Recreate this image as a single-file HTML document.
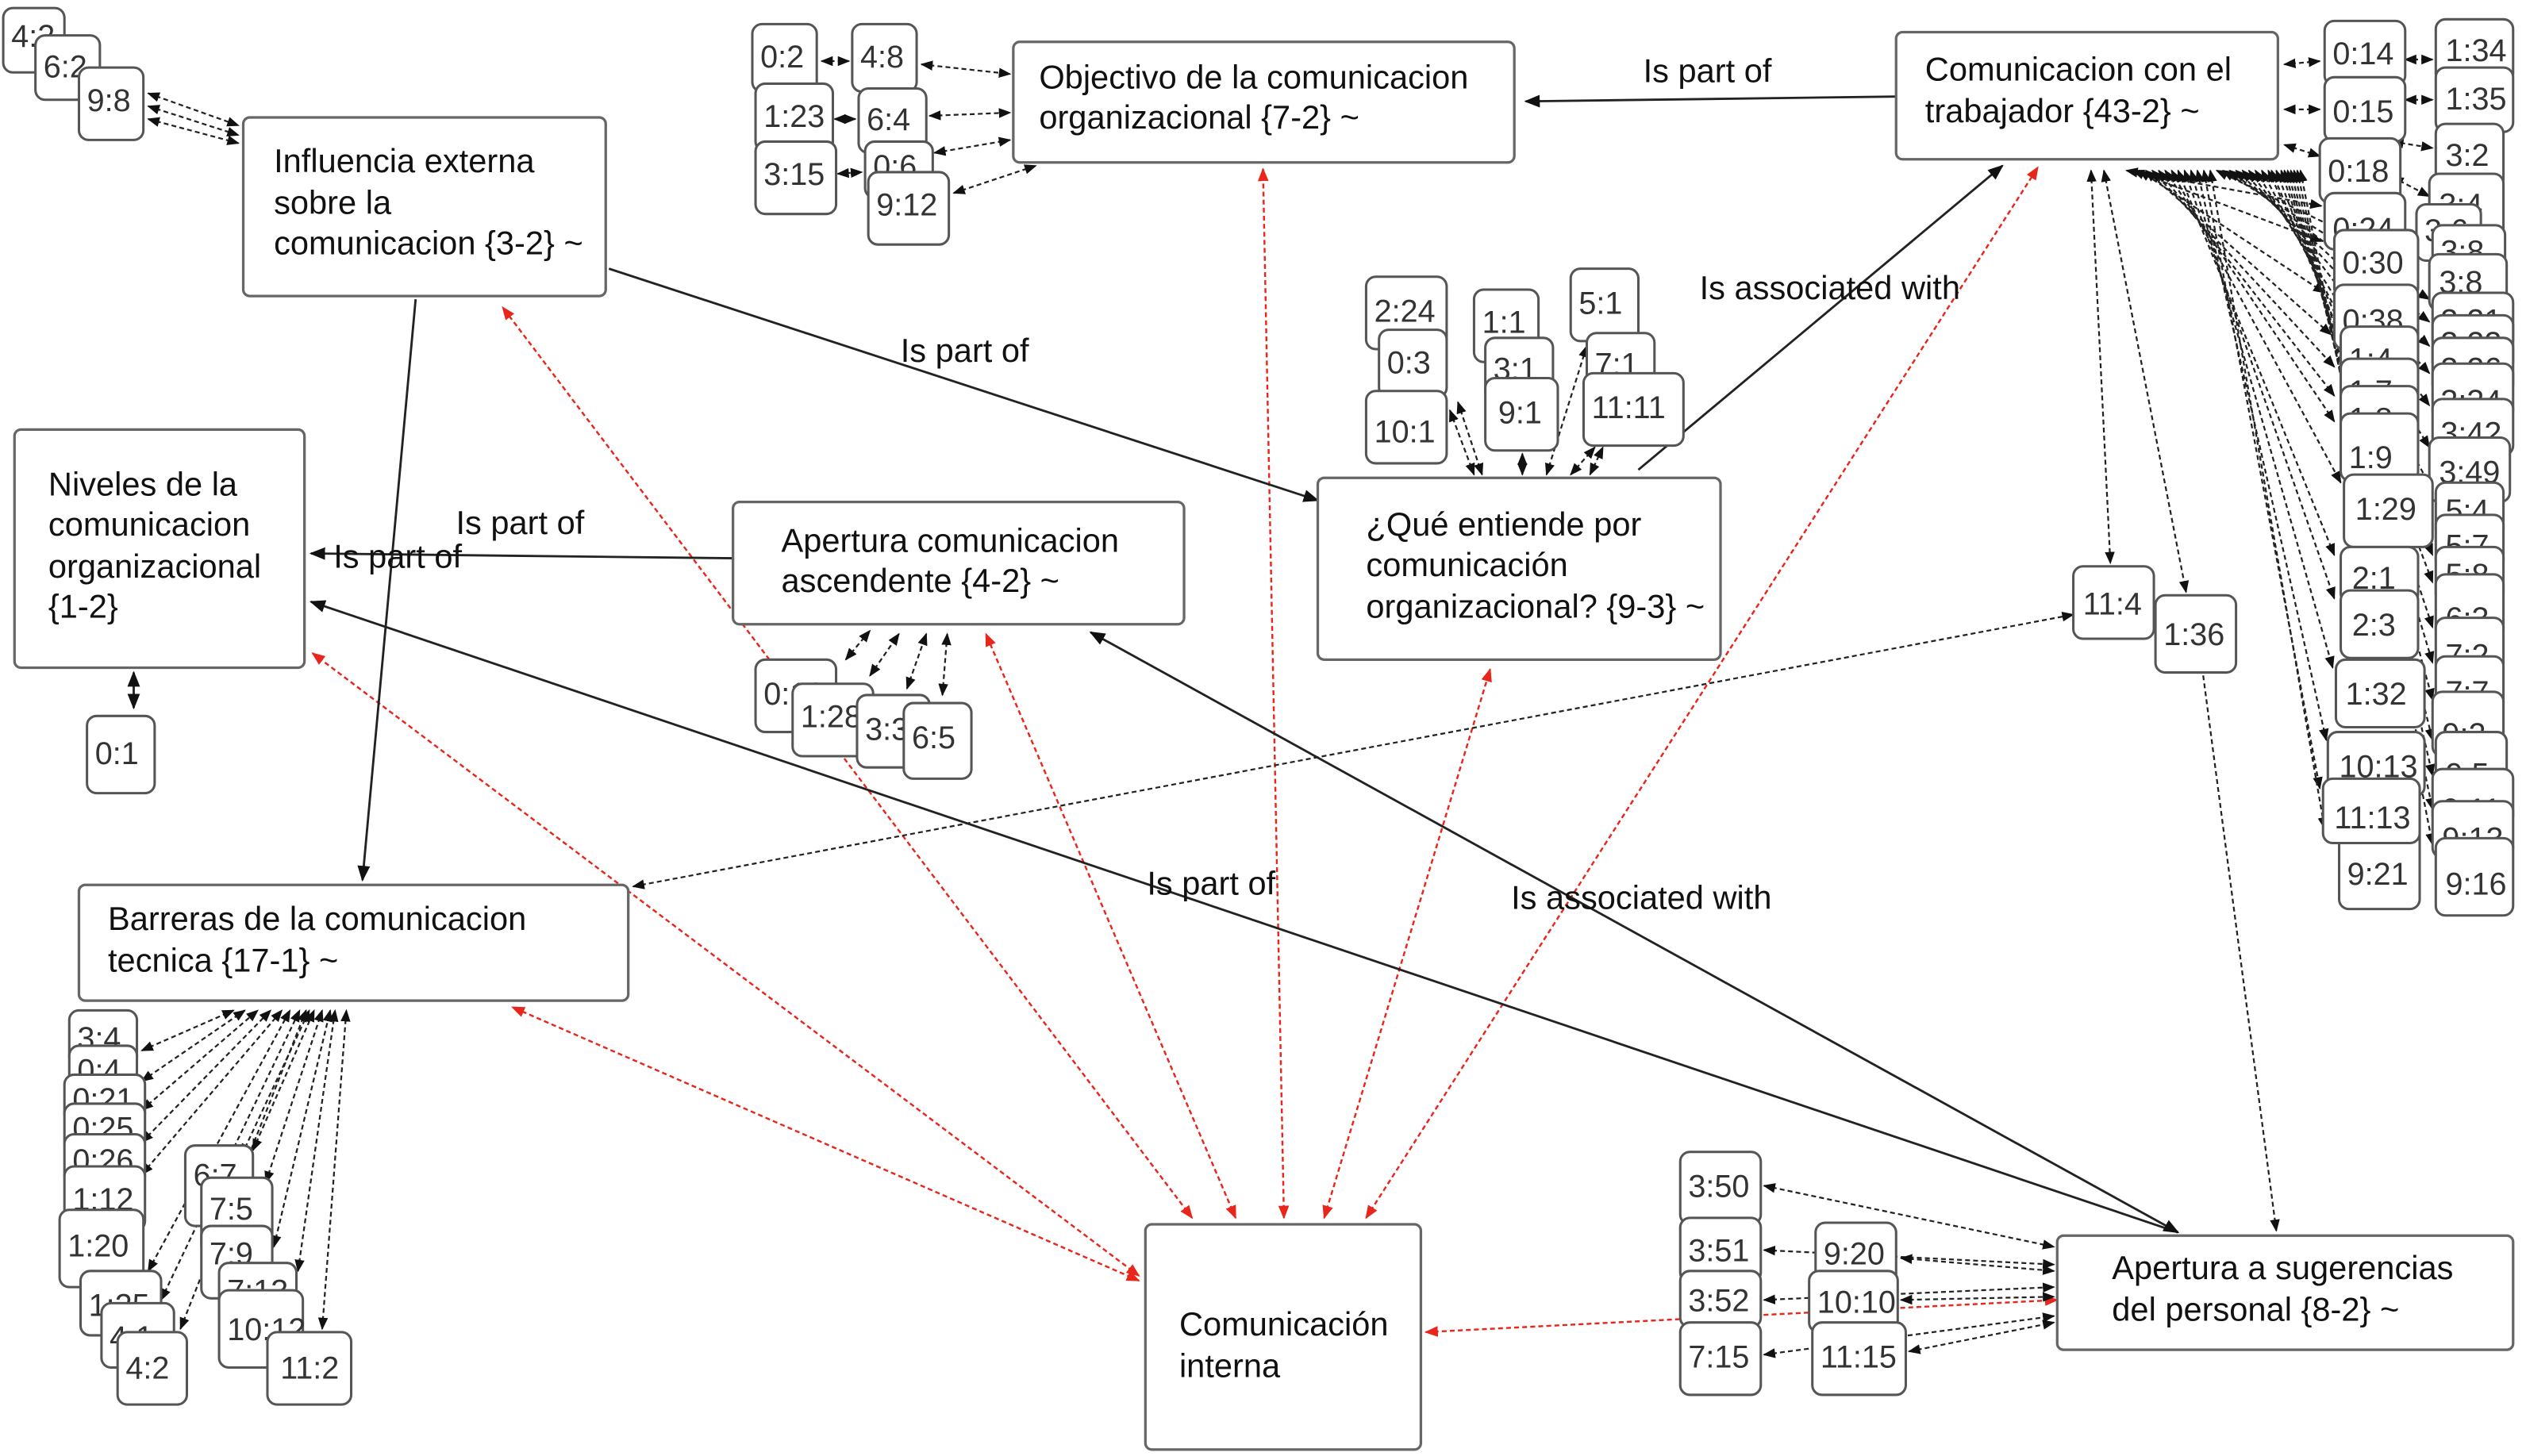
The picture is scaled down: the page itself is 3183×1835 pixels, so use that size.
<!DOCTYPE html>
<html><head><meta charset="utf-8"><style>
html,body{margin:0;padding:0;background:#fff;}
svg{display:block;}
.m{font-family:"Liberation Sans",sans-serif;font-size:20.5px;fill:#111;}
.c{font-family:"Liberation Sans",sans-serif;font-size:19.5px;fill:#333;}
.lb{font-family:"Liberation Sans",sans-serif;font-size:20.5px;fill:#111;}
.b{fill:#fff;stroke:#666;stroke-width:1.6;}
.k{fill:#fff;stroke:#555;stroke-width:1.5;}
.s{stroke:#222;stroke-width:1.4;fill:none;}
.d{stroke:#222;stroke-width:1.1;fill:none;stroke-dasharray:3 2;}
.r{stroke:#e8261c;stroke-width:1.2;fill:none;stroke-dasharray:3 2;}
</style></head><body>
<svg width="3183" height="1835" viewBox="0 0 1568 905" preserveAspectRatio="none" xmlns="http://www.w3.org/2000/svg">
<defs>
<marker id="a" viewBox="0 0 10 10" refX="9" refY="5" markerWidth="7" markerHeight="7" orient="auto-start-reverse"><path d="M0,1 L10,5 L0,9 z" fill="#111"/></marker>
<marker id="ar" viewBox="0 0 10 10" refX="9" refY="5" markerWidth="7" markerHeight="7" orient="auto-start-reverse"><path d="M0,1 L10,5 L0,9 z" fill="#e8261c"/></marker>
</defs>

<g class="r" marker-start="url(#ar)" marker-end="url(#ar)">
<line x1="740" y1="757" x2="312" y2="191"/>
<line x1="707" y1="793" x2="194" y2="406"/>
<line x1="767" y1="757" x2="612" y2="394"/>
<line x1="797" y1="757" x2="784" y2="105"/>
<line x1="822" y1="757" x2="925" y2="416"/>
<line x1="848" y1="757" x2="1265" y2="104"/>
<line x1="707" y1="796" x2="318" y2="626"/>
<line x1="885" y1="828" x2="1277" y2="808"/>
</g>

<g class="s">
<line x1="1177" y1="60" x2="947" y2="63" marker-end="url(#a)"/>
<line x1="378" y1="167" x2="818" y2="311" marker-end="url(#a)"/>
<line x1="258" y1="186" x2="225" y2="547" marker-end="url(#a)"/>
<line x1="455" y1="347" x2="193" y2="344" marker-end="url(#a)"/>
<line x1="1352" y1="766" x2="193" y2="374" marker-end="url(#a)"/>
<line x1="1352" y1="766" x2="677" y2="393" marker-end="url(#a)" marker-start="url(#a)"/>
<line x1="1017" y1="292" x2="1243" y2="103" marker-end="url(#a)"/>
<line x1="83" y1="440" x2="83" y2="418" marker-end="url(#a)" marker-start="url(#a)"/>
</g>

<g class="d" marker-start="url(#a)" marker-end="url(#a)">
<line x1="393" y1="551" x2="1287" y2="382"/>
<line x1="1365" y1="400" x2="1413" y2="765"/>
<line x1="1298" y1="106" x2="1310" y2="350"/>
<line x1="1306" y1="106" x2="1357" y2="368"/>
<line x1="92" y1="58" x2="148" y2="78"/>
<line x1="92" y1="66" x2="148" y2="84"/>
<line x1="92" y1="74" x2="148" y2="89"/>
<line x1="510" y1="38" x2="527" y2="38"/>
<line x1="572" y1="40" x2="627" y2="46"/>
<line x1="518" y1="74" x2="531" y2="74"/>
<line x1="577" y1="72" x2="627" y2="70"/>
<line x1="520" y1="108" x2="535" y2="107"/>
<line x1="580" y1="95" x2="627" y2="87"/>
<line x1="592" y1="120" x2="643" y2="103"/>
<line x1="900" y1="255" x2="915" y2="295"/>
<line x1="905" y1="250" x2="920" y2="295"/>
<line x1="945" y1="282" x2="945" y2="295"/>
<line x1="960" y1="295" x2="985" y2="215"/>
<line x1="975" y1="295" x2="990" y2="278"/>
<line x1="987" y1="295" x2="995" y2="278"/>
<line x1="525" y1="410" x2="540" y2="392"/>
<line x1="540" y1="420" x2="558" y2="394"/>
<line x1="563" y1="428" x2="575" y2="394"/>
<line x1="585" y1="432" x2="588" y2="394"/>
<line x1="1095" y1="737" x2="1275" y2="775"/>
<line x1="1095" y1="777" x2="1275" y2="786"/>
<line x1="1180" y1="782" x2="1275" y2="790"/>
<line x1="1095" y1="808" x2="1275" y2="800"/>
<line x1="1180" y1="808" x2="1275" y2="806"/>
<line x1="1095" y1="842" x2="1275" y2="818"/>
<line x1="1185" y1="840" x2="1275" y2="822"/>
<line x1="1440" y1="38" x2="1418" y2="40"/>
<line x1="1440" y1="68" x2="1418" y2="68"/>
<line x1="1440" y1="97" x2="1418" y2="90"/>
<line x1="1493" y1="37" x2="1510" y2="37"/>
<line x1="1493" y1="62" x2="1510" y2="62"/>
<line x1="1485" y1="88" x2="1510" y2="92"/>
<line x1="1485" y1="110" x2="1508" y2="122"/>
<line x1="88" y1="653" x2="145" y2="628"/>
<line x1="88" y1="672" x2="152" y2="628"/>
<line x1="88" y1="690" x2="160" y2="628"/>
<line x1="88" y1="710" x2="168" y2="628"/>
<line x1="88" y1="730" x2="175" y2="628"/>
<line x1="92" y1="790" x2="180" y2="628"/>
<line x1="100" y1="808" x2="186" y2="628"/>
<line x1="112" y1="826" x2="190" y2="628"/>
<line x1="157" y1="715" x2="195" y2="628"/>
<line x1="165" y1="735" x2="200" y2="628"/>
<line x1="170" y1="775" x2="205" y2="628"/>
<line x1="185" y1="790" x2="208" y2="628"/>
<line x1="200" y1="826" x2="215" y2="628"/>
<line x1="150" y1="718" x2="192" y2="628"/>
</g>

<g class="d" marker-start="url(#a)" marker-end="url(#a)">
<line x1="1320" y1="106" x2="1441" y2="128"/>
<line x1="1324" y1="106" x2="1441" y2="150"/>
<line x1="1328" y1="106" x2="1443" y2="182"/>
<line x1="1332" y1="106" x2="1447" y2="208"/>
<line x1="1336" y1="106" x2="1449" y2="228"/>
<line x1="1340" y1="106" x2="1449" y2="246"/>
<line x1="1344" y1="106" x2="1449" y2="262"/>
<line x1="1348" y1="106" x2="1453" y2="300"/>
<line x1="1352" y1="106" x2="1449" y2="345"/>
<line x1="1356" y1="106" x2="1449" y2="372"/>
<line x1="1360" y1="106" x2="1448" y2="415"/>
<line x1="1364" y1="106" x2="1444" y2="460"/>
<line x1="1368" y1="106" x2="1440" y2="490"/>
<line x1="1372" y1="106" x2="1443" y2="515"/>
<line x1="1376" y1="106" x2="1498" y2="165"/>
<line x1="1380" y1="106" x2="1508" y2="186"/>
<line x1="1384" y1="106" x2="1508" y2="200"/>
<line x1="1388" y1="106" x2="1508" y2="215"/>
<line x1="1392" y1="106" x2="1508" y2="232"/>
<line x1="1396" y1="106" x2="1508" y2="252"/>
<line x1="1400" y1="106" x2="1508" y2="278"/>
<line x1="1404" y1="106" x2="1510" y2="305"/>
<line x1="1408" y1="106" x2="1510" y2="325"/>
<line x1="1410" y1="106" x2="1510" y2="345"/>
<line x1="1413" y1="106" x2="1510" y2="362"/>
<line x1="1416" y1="106" x2="1510" y2="390"/>
<line x1="1418" y1="106" x2="1510" y2="412"/>
<line x1="1420" y1="106" x2="1510" y2="435"/>
<line x1="1422" y1="106" x2="1510" y2="460"/>
<line x1="1424" y1="106" x2="1510" y2="482"/>
<line x1="1426" y1="106" x2="1510" y2="503"/>
<line x1="1428" y1="106" x2="1510" y2="525"/>
</g>

<g>
<rect class="b" x="151" y="73" width="225" height="111" rx="4"/>
<text class="m" x="170" y="107">Influencia externa</text><text class="m" x="170" y="133">sobre la</text><text class="m" x="170" y="158">comunicacion {3-2} ~</text>
<rect class="b" x="629" y="26" width="311" height="75" rx="4"/>
<text class="m" x="645" y="55">Objectivo de la comunicacion</text><text class="m" x="645" y="80">organizacional {7-2} ~</text>
<rect class="b" x="1177" y="20" width="237" height="79" rx="4"/>
<text class="m" x="1195" y="50">Comunicacion con el</text><text class="m" x="1195" y="76">trabajador {43-2} ~</text>
<rect class="b" x="9" y="267" width="180" height="148" rx="4"/>
<text class="m" x="30" y="308">Niveles de la</text><text class="m" x="30" y="333">comunicacion</text><text class="m" x="30" y="359">organizacional</text><text class="m" x="30" y="384">{1-2}</text>
<rect class="b" x="455" y="312" width="280" height="76" rx="4"/>
<text class="m" x="485" y="343">Apertura comunicacion</text><text class="m" x="485" y="368">ascendente {4-2} ~</text>
<rect class="b" x="818" y="297" width="250" height="113" rx="4"/>
<text class="m" x="848" y="333">¿Qué entiende por</text><text class="m" x="848" y="358">comunicación</text><text class="m" x="848" y="384">organizacional? {9-3} ~</text>
<rect class="b" x="49" y="550" width="341" height="72" rx="4"/>
<text class="m" x="67" y="578">Barreras de la comunicacion</text><text class="m" x="67" y="604">tecnica {17-1} ~</text>
<rect class="b" x="711" y="761" width="171" height="140" rx="4"/>
<text class="m" x="732" y="830">Comunicación</text><text class="m" x="732" y="856">interna</text>
<rect class="b" x="1277" y="768" width="283" height="71" rx="4"/>
<text class="m" x="1311" y="795">Apertura a sugerencias</text><text class="m" x="1311" y="821">del personal {8-2} ~</text>
</g>

<text class="lb" x="1020" y="51">Is part of</text>
<text class="lb" x="559" y="225">Is part of</text>
<text class="lb" x="283" y="332">Is part of</text>
<text class="lb" x="207" y="353">Is part of</text>
<text class="lb" x="712" y="556">Is part of</text>
<text class="lb" x="938" y="565">Is associated with</text>
<text class="lb" x="1055" y="186">Is associated with</text>

<g id="codes">
<rect class="k" x="2" y="5" width="38" height="40" rx="6"/><text class="c" x="7" y="29">4:2</text>
<rect class="k" x="22" y="22" width="40" height="40" rx="6"/><text class="c" x="27" y="48">6:2</text>
<rect class="k" x="49" y="42" width="40" height="45" rx="6"/><text class="c" x="54" y="69">9:8</text>

<rect class="k" x="467" y="15" width="40" height="42" rx="6"/><text class="c" x="472" y="42">0:2</text>
<rect class="k" x="529" y="15" width="40" height="42" rx="6"/><text class="c" x="534" y="42">4:8</text>
<rect class="k" x="469" y="52" width="48" height="42" rx="6"/><text class="c" x="474" y="79">1:23</text>
<rect class="k" x="533" y="55" width="42" height="40" rx="6"/><text class="c" x="538" y="81">6:4</text>
<rect class="k" x="537" y="88" width="42" height="35" rx="6"/><text class="c" x="542" y="110">0:6</text>
<rect class="k" x="469" y="88" width="50" height="45" rx="6"/><text class="c" x="474" y="115">3:15</text>
<rect class="k" x="539" y="107" width="50" height="45" rx="6"/><text class="c" x="544" y="134">9:12</text>

<rect class="k" x="848" y="172" width="50" height="45" rx="6"/><text class="c" x="853" y="200">2:24</text>
<rect class="k" x="856" y="205" width="42" height="42" rx="6"/><text class="c" x="861" y="232">0:3</text>
<rect class="k" x="848" y="243" width="50" height="45" rx="6"/><text class="c" x="853" y="275">10:1</text>
<rect class="k" x="915" y="180" width="40" height="45" rx="6"/><text class="c" x="920" y="207">1:1</text>
<rect class="k" x="922" y="210" width="42" height="40" rx="6"/><text class="c" x="927" y="236">3:1</text>
<rect class="k" x="922" y="235" width="45" height="45" rx="6"/><text class="c" x="930" y="263">9:1</text>
<rect class="k" x="975" y="167" width="42" height="45" rx="6"/><text class="c" x="980" y="195">5:1</text>
<rect class="k" x="985" y="207" width="42" height="40" rx="6"/><text class="c" x="990" y="233">7:1</text>
<rect class="k" x="983" y="232" width="62" height="45" rx="6"/><text class="c" x="988" y="260">11:11</text>

<rect class="k" x="469" y="410" width="50" height="45" rx="6"/><text class="c" x="474" y="438">0:19</text>
<rect class="k" x="492" y="425" width="50" height="45" rx="6"/><text class="c" x="497" y="452">1:28</text>
<rect class="k" x="532" y="432" width="45" height="45" rx="6"/><text class="c" x="537" y="460">3:3</text>
<rect class="k" x="561" y="437" width="42" height="47" rx="6"/><text class="c" x="566" y="465">6:5</text>

<rect class="k" x="54" y="445" width="42" height="48" rx="6"/><text class="c" x="59" y="475">0:1</text>

<rect class="k" x="1287" y="352" width="50" height="45" rx="6"/><text class="c" x="1293" y="382">11:4</text>
<rect class="k" x="1338" y="370" width="50" height="48" rx="6"/><text class="c" x="1343" y="401">1:36</text>

<rect class="k" x="43" y="628" width="42" height="35" rx="6"/><text class="c" x="48" y="652">3:4</text>
<rect class="k" x="43" y="650" width="42" height="30" rx="6"/><text class="c" x="48" y="672">0:4</text>
<rect class="k" x="40" y="668" width="50" height="30" rx="6"/><text class="c" x="45" y="690">0:21</text>
<rect class="k" x="40" y="686" width="50" height="30" rx="6"/><text class="c" x="45" y="708">0:25</text>
<rect class="k" x="40" y="705" width="50" height="32" rx="6"/><text class="c" x="45" y="728">0:26</text>
<rect class="k" x="40" y="725" width="50" height="40" rx="6"/><text class="c" x="45" y="752">1:12</text>
<rect class="k" x="37" y="752" width="52" height="48" rx="6"/><text class="c" x="42" y="781">1:20</text>
<rect class="k" x="50" y="790" width="50" height="40" rx="6"/><text class="c" x="55" y="818">1:25</text>
<rect class="k" x="63" y="810" width="45" height="40" rx="6"/><text class="c" x="68" y="838">4:1</text>
<rect class="k" x="73" y="828" width="43" height="45" rx="6"/><text class="c" x="78" y="857">4:2</text>
<rect class="k" x="115" y="712" width="42" height="50" rx="6"/><text class="c" x="120" y="737">6:7</text>
<rect class="k" x="125" y="732" width="44" height="48" rx="6"/><text class="c" x="130" y="758">7:5</text>
<rect class="k" x="125" y="762" width="44" height="45" rx="6"/><text class="c" x="130" y="786">7:9</text>
<rect class="k" x="136" y="785" width="48" height="40" rx="6"/><text class="c" x="141" y="809">7:13</text>
<rect class="k" x="136" y="802" width="52" height="48" rx="6"/><text class="c" x="141" y="833">10:12</text>
<rect class="k" x="166" y="828" width="52" height="45" rx="6"/><text class="c" x="174" y="857">11:2</text>

<rect class="k" x="1043" y="716" width="50" height="45" rx="6"/><text class="c" x="1048" y="744">3:50</text>
<rect class="k" x="1043" y="757" width="50" height="40" rx="6"/><text class="c" x="1048" y="784">3:51</text>
<rect class="k" x="1127" y="760" width="50" height="40" rx="6"/><text class="c" x="1132" y="786">9:20</text>
<rect class="k" x="1043" y="790" width="50" height="35" rx="6"/><text class="c" x="1048" y="815">3:52</text>
<rect class="k" x="1123" y="790" width="55" height="38" rx="6"/><text class="c" x="1128" y="816">10:10</text>
<rect class="k" x="1043" y="822" width="50" height="45" rx="6"/><text class="c" x="1048" y="850">7:15</text>
<rect class="k" x="1125" y="822" width="58" height="45" rx="6"/><text class="c" x="1130" y="850">11:15</text>

<rect class="k" x="1512" y="12" width="48" height="40" rx="6"/><text class="c" x="1518" y="38">1:34</text>
<rect class="k" x="1512" y="42" width="48" height="40" rx="6"/><text class="c" x="1518" y="68">1:35</text>
<rect class="k" x="1512" y="77" width="42" height="40" rx="6"/><text class="c" x="1518" y="103">3:2</text>
<rect class="k" x="1508" y="108" width="46" height="40" rx="6"/><text class="c" x="1514" y="134">3:4</text>
<rect class="k" x="1500" y="127" width="40" height="35" rx="6"/><text class="c" x="1505" y="150">3:6</text>
<rect class="k" x="1510" y="140" width="45" height="35" rx="6"/><text class="c" x="1515" y="163">3:8</text>
<rect class="k" x="1508" y="158" width="48" height="35" rx="6"/><text class="c" x="1514" y="182">3:8</text>
<rect class="k" x="1510" y="182" width="50" height="35" rx="6"/><text class="c" x="1515" y="206">3:21</text>
<rect class="k" x="1510" y="196" width="50" height="35" rx="6"/><text class="c" x="1515" y="220">3:22</text>
<rect class="k" x="1510" y="210" width="50" height="35" rx="6"/><text class="c" x="1515" y="236">3:26</text>
<rect class="k" x="1510" y="226" width="50" height="35" rx="6"/><text class="c" x="1515" y="256">3:34</text>
<rect class="k" x="1510" y="248" width="50" height="35" rx="6"/><text class="c" x="1515" y="276">3:42</text>
<rect class="k" x="1508" y="272" width="50" height="40" rx="6"/><text class="c" x="1514" y="300">3:49</text>
<rect class="k" x="1512" y="300" width="42" height="35" rx="6"/><text class="c" x="1518" y="324">5:4</text>
<rect class="k" x="1512" y="320" width="42" height="35" rx="6"/><text class="c" x="1518" y="346">5:7</text>
<rect class="k" x="1512" y="340" width="42" height="35" rx="6"/><text class="c" x="1518" y="364">5:8</text>
<rect class="k" x="1512" y="357" width="42" height="40" rx="6"/><text class="c" x="1518" y="391">6:3</text>
<rect class="k" x="1512" y="384" width="42" height="35" rx="6"/><text class="c" x="1518" y="414">7:2</text>
<rect class="k" x="1512" y="408" width="42" height="35" rx="6"/><text class="c" x="1518" y="437">7:7</text>
<rect class="k" x="1510" y="430" width="44" height="40" rx="6"/><text class="c" x="1516" y="463">9:2</text>
<rect class="k" x="1512" y="455" width="44" height="38" rx="6"/><text class="c" x="1518" y="488">9:5</text>
<rect class="k" x="1510" y="478" width="50" height="35" rx="6"/><text class="c" x="1516" y="510">9:11</text>
<rect class="k" x="1510" y="498" width="50" height="35" rx="6"/><text class="c" x="1516" y="528">9:13</text>
<rect class="k" x="1512" y="521" width="48" height="48" rx="6"/><text class="c" x="1518" y="556">9:16</text>

<rect class="k" x="1443" y="13" width="50" height="40" rx="6"/><text class="c" x="1448" y="40">0:14</text>
<rect class="k" x="1443" y="48" width="50" height="40" rx="6"/><text class="c" x="1448" y="76">0:15</text>
<rect class="k" x="1440" y="86" width="50" height="40" rx="6"/><text class="c" x="1445" y="113">0:18</text>
<rect class="k" x="1443" y="120" width="50" height="35" rx="6"/><text class="c" x="1448" y="149">0:24</text>
<rect class="k" x="1449" y="143" width="52" height="42" rx="6"/><text class="c" x="1454" y="170">0:30</text>
<rect class="k" x="1449" y="177" width="52" height="40" rx="6"/><text class="c" x="1454" y="206">0:38</text>
<rect class="k" x="1453" y="203" width="48" height="35" rx="6"/><text class="c" x="1458" y="230">1:4</text>
<rect class="k" x="1453" y="223" width="48" height="35" rx="6"/><text class="c" x="1458" y="250">1:7</text>
<rect class="k" x="1453" y="240" width="48" height="35" rx="6"/><text class="c" x="1458" y="267">1:8</text>
<rect class="k" x="1453" y="257" width="48" height="42" rx="6"/><text class="c" x="1458" y="291">1:9</text>
<rect class="k" x="1455" y="295" width="55" height="45" rx="6"/><text class="c" x="1462" y="323">1:29</text>
<rect class="k" x="1453" y="340" width="48" height="35" rx="6"/><text class="c" x="1460" y="366">2:1</text>
<rect class="k" x="1453" y="367" width="48" height="42" rx="6"/><text class="c" x="1460" y="395">2:3</text>
<rect class="k" x="1450" y="410" width="55" height="42" rx="6"/><text class="c" x="1456" y="438">1:32</text>
<rect class="k" x="1452" y="500" width="50" height="65" rx="6"/><text class="c" x="1457" y="550">9:21</text>
<rect class="k" x="1445" y="455" width="60" height="40" rx="6"/><text class="c" x="1452" y="483">10:13</text>
<rect class="k" x="1442" y="484" width="60" height="40" rx="6"/><text class="c" x="1449" y="515">11:13</text>
</g>
</svg>
</body></html>
